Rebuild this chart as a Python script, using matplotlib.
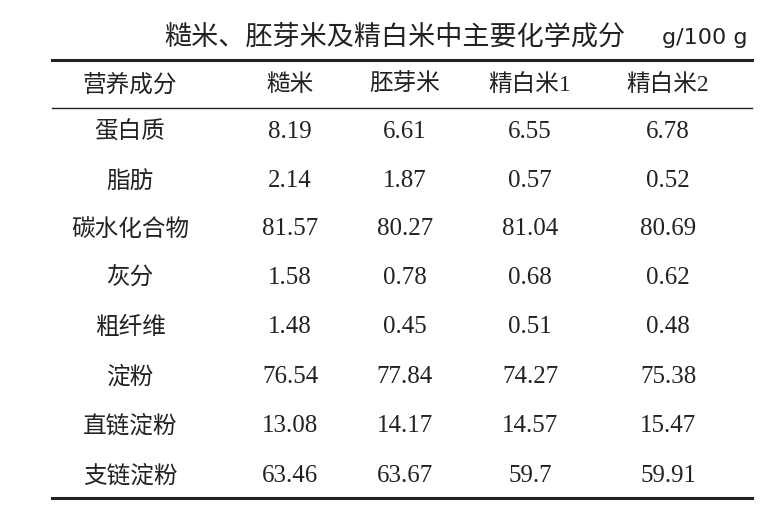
import matplotlib.pyplot as plt

# table content
title = "糙米、胚芽米及精白米中主要化学成分"
unit = "g/100 g"
columns = ["营养成分", "糙米", "胚芽米", "精白米1", "精白米2"]
nutrients = ["蛋白质", "脂肪", "碳水化合物", "灰分", "粗纤维", "淀粉", "直链淀粉", "支链淀粉"]
brown = ["8.19", "2.14", "81.57", "1.58", "1.48", "76.54", "13.08", "63.46"]
germ = ["6.61", "1.87", "80.27", "0.78", "0.45", "77.84", "14.17", "63.67"]
white1 = ["6.55", "0.57", "81.04", "0.68", "0.51", "74.27", "14.57", "59.7"]
white2 = ["6.78", "0.52", "80.69", "0.62", "0.48", "75.38", "15.47", "59.91"]

cjk = ['Noto Sans CJK SC', 'DejaVu Sans']
serif = ['Liberation Serif', 'Noto Sans CJK SC']

fig = plt.figure(figsize=(7.67, 5.11), dpi=100)
ax = fig.add_axes([0, 0, 1, 1])
ax.set_xlim(0, 767)
ax.set_ylim(511, 0)
ax.axis('off')

col_x = [130, 290, 405, 530, 668]
row_y = [132, 181, 229, 278, 327, 377, 426, 476]

ax.text(625, 37, title, ha='right', va='center', fontsize=19.5, family=cjk, color='#222222')
ax.text(748, 38, unit, ha='right', va='center', fontsize=16, family=['DejaVu Sans'], color='#222222')

ax.plot([52, 752], [60, 60], color='#222222', lw=2.2)
ax.plot([52, 752], [108, 108], color='#222222', lw=1.0)
ax.plot([52, 752], [498, 498], color='#222222', lw=2.2)

for x, c in zip(col_x, columns):
    ax.text(x, 85, c, ha='center', va='center', fontsize=17, family=cjk if x == col_x[0] else serif,
            color='#222222')

for i, y in enumerate(row_y):
    ax.text(col_x[0], y, nutrients[i], ha='center', va='center', fontsize=17, family=cjk, color='#222222')
    for x, vals in zip(col_x[1:], [brown, germ, white1, white2]):
        ax.text(x, y, vals[i], ha='center', va='center', fontsize=18, family=serif, color='#222222')

fig.savefig('out.png', dpi=100)
